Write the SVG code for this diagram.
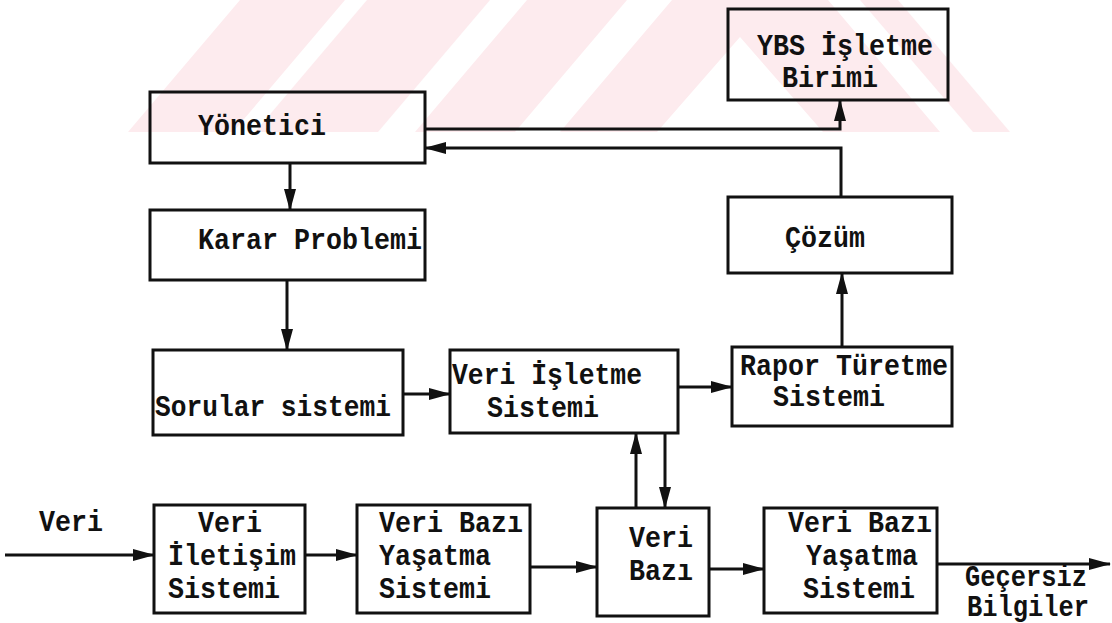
<svg xmlns="http://www.w3.org/2000/svg" width="1112" height="623" viewBox="0 0 1112 623">
  <defs>
    <style>
      .box { fill: none; stroke: #111; stroke-width: 3; stroke-linejoin: miter; }
      .wire { fill: none; stroke: #111; stroke-width: 3; }
      .lbl { font-family: "Liberation Mono", "DejaVu Sans Mono", monospace; font-weight: bold; font-size: 29px; fill: #111; }
      .mark { fill: #fdebee; }
    </style>
    <marker id="head" viewBox="0 0 22 14" markerWidth="22" markerHeight="14" refX="21" refY="7" orient="auto" markerUnits="userSpaceOnUse">
      <path d="M0,1 L22,7 L0,13 Z" fill="#111"/>
    </marker>
  </defs>

  <!-- faint striped emblem behind the chart -->
  <g id="emblem">
    <polygon class="mark" points="128,132 233,132 345,0 240,0"/>
    <polygon class="mark" points="255,132 378,132 490,0 367,0"/>
    <polygon class="mark" points="415,132 515,132 627,0 527,0"/>
    <polygon class="mark" points="560,132 657,132 740,37 823,132 940,132 828,0 672,0"/>
    <polygon class="mark" points="973,132 1010,132 898,0 860,0"/>
  </g>

  <g id="connectors">
    <!-- Yönetici -> Karar Problemi -->
    <line class="wire" x1="290" y1="163" x2="290" y2="210" marker-end="url(#head)"/>
    <!-- Karar Problemi -> Sorular sistemi -->
    <line class="wire" x1="287" y1="280" x2="287" y2="350" marker-end="url(#head)"/>
    <!-- Sorular sistemi -> Veri İşletme -->
    <line class="wire" x1="403" y1="394" x2="450" y2="394" marker-end="url(#head)"/>
    <!-- Veri İşletme -> Rapor Türetme -->
    <line class="wire" x1="678" y1="387" x2="732" y2="387" marker-end="url(#head)"/>
    <!-- Rapor Türetme -> Çözüm -->
    <line class="wire" x1="842" y1="347" x2="842" y2="273" marker-end="url(#head)"/>
    <!-- Çözüm -> Yönetici -->
    <polyline class="wire" points="841,197 841,148 425,148" marker-end="url(#head)"/>
    <!-- Yönetici -> YBS İşletme Birimi -->
    <polyline class="wire" points="425,129 840,129 840,100" marker-end="url(#head)"/>
    <!-- Veri Bazı <-> Veri İşletme -->
    <line class="wire" x1="636" y1="508" x2="636" y2="433" marker-end="url(#head)"/>
    <line class="wire" x1="665" y1="433" x2="665" y2="508" marker-end="url(#head)"/>
    <!-- flow along the bottom row -->
    <line class="wire" x1="5" y1="555" x2="154" y2="555" marker-end="url(#head)"/>
    <line class="wire" x1="305" y1="555" x2="357" y2="555" marker-end="url(#head)"/>
    <line class="wire" x1="530" y1="567" x2="597" y2="567" marker-end="url(#head)"/>
    <line class="wire" x1="709" y1="569" x2="764" y2="569" marker-end="url(#head)"/>
    <line class="wire" x1="937" y1="564" x2="1110" y2="564" marker-end="url(#head)"/>
  </g>

  <g id="ybs">
    <rect class="box" x="728" y="9" width="220" height="91"/>
    <text class="lbl" x="757" y="55" textLength="176" lengthAdjust="spacingAndGlyphs">YBS İşletme</text>
    <text class="lbl" x="782" y="87" textLength="96" lengthAdjust="spacingAndGlyphs">Birimi</text>
  </g>

  <g id="yonetici">
    <rect class="box" x="150" y="92" width="275" height="71"/>
    <text class="lbl" x="198" y="135" textLength="128" lengthAdjust="spacingAndGlyphs">Yönetici</text>
  </g>

  <g id="karar">
    <rect class="box" x="150" y="210" width="275" height="70"/>
    <text class="lbl" x="198" y="249" textLength="224" lengthAdjust="spacingAndGlyphs">Karar Problemi</text>
  </g>

  <g id="cozum">
    <rect class="box" x="728" y="197" width="224" height="76"/>
    <text class="lbl" x="785" y="247" textLength="80" lengthAdjust="spacingAndGlyphs">Çözüm</text>
  </g>

  <g id="sorular">
    <rect class="box" x="153" y="350" width="250" height="85"/>
    <text class="lbl" x="155" y="416" textLength="236" lengthAdjust="spacingAndGlyphs">Sorular sistemi</text>
  </g>

  <g id="veri-isletme">
    <rect class="box" x="450" y="350" width="228" height="83"/>
    <text class="lbl" x="452" y="384" textLength="190" lengthAdjust="spacingAndGlyphs">Veri İşletme</text>
    <text class="lbl" x="487" y="417" textLength="112" lengthAdjust="spacingAndGlyphs">Sistemi</text>
  </g>

  <g id="rapor">
    <rect class="box" x="732" y="347" width="220" height="79"/>
    <text class="lbl" x="740" y="375" textLength="208" lengthAdjust="spacingAndGlyphs">Rapor Türetme</text>
    <text class="lbl" x="773" y="406" textLength="112" lengthAdjust="spacingAndGlyphs">Sistemi</text>
  </g>

  <g id="veri-girdi">
    <text class="lbl" x="39" y="531" textLength="64" lengthAdjust="spacingAndGlyphs">Veri</text>
  </g>

  <g id="veri-iletisim">
    <rect class="box" x="154" y="505" width="151" height="108"/>
    <text class="lbl" x="198" y="532" textLength="64" lengthAdjust="spacingAndGlyphs">Veri</text>
    <text class="lbl" x="168" y="565" textLength="128" lengthAdjust="spacingAndGlyphs">İletişim</text>
    <text class="lbl" x="168" y="598" textLength="112" lengthAdjust="spacingAndGlyphs">Sistemi</text>
  </g>

  <g id="yasatma-1">
    <rect class="box" x="357" y="505" width="173" height="108"/>
    <text class="lbl" x="379" y="532" textLength="144" lengthAdjust="spacingAndGlyphs">Veri Bazı</text>
    <text class="lbl" x="379" y="565" textLength="112" lengthAdjust="spacingAndGlyphs">Yaşatma</text>
    <text class="lbl" x="379" y="598" textLength="112" lengthAdjust="spacingAndGlyphs">Sistemi</text>
  </g>

  <g id="veri-bazi">
    <rect class="box" x="597" y="508" width="112" height="108"/>
    <text class="lbl" x="629" y="547" textLength="64" lengthAdjust="spacingAndGlyphs">Veri</text>
    <text class="lbl" x="629" y="580" textLength="64" lengthAdjust="spacingAndGlyphs">Bazı</text>
  </g>

  <g id="yasatma-2">
    <rect class="box" x="764" y="508" width="173" height="105"/>
    <text class="lbl" x="788" y="532" textLength="144" lengthAdjust="spacingAndGlyphs">Veri Bazı</text>
    <text class="lbl" x="806" y="565" textLength="112" lengthAdjust="spacingAndGlyphs">Yaşatma</text>
    <text class="lbl" x="803" y="598" textLength="112" lengthAdjust="spacingAndGlyphs">Sistemi</text>
  </g>

  <g id="gecersiz">
    <text class="lbl" x="965" y="586" textLength="122" lengthAdjust="spacingAndGlyphs">Geçersiz</text>
    <text class="lbl" x="967" y="616" textLength="122" lengthAdjust="spacingAndGlyphs">Bilgiler</text>
  </g>
</svg>
